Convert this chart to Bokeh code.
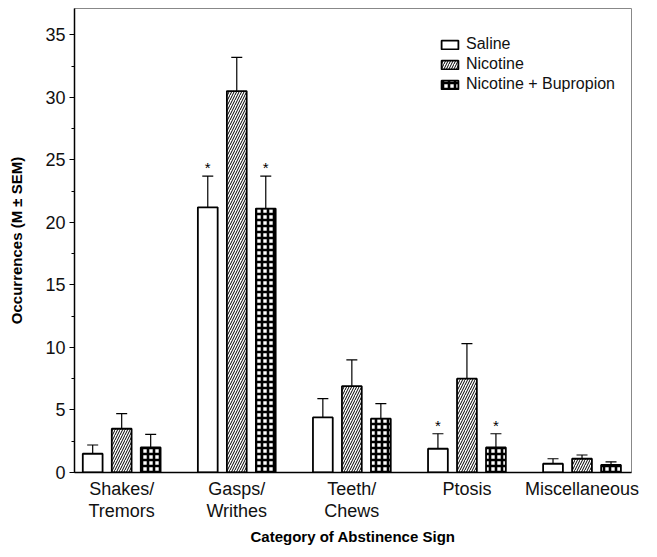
from bokeh.plotting import figure
from bokeh.models import (ColumnDataSource, Whisker, TeeHead, FixedTicker, Range1d,
                          SingleIntervalTicker)
from bokeh.transform import dodge
from bokeh.core.properties import value
from bokeh.embed import file_html
from bokeh.resources import INLINE

categories = ["Shakes/\nTremors", "Gasps/\nWrithes", "Teeth/\nChews", "Ptosis", "Miscellaneous"]
series = ["Saline", "Nicotine", "Nicotine + Bupropion"]
saline = [1.5, 21.2, 4.4, 1.9, 0.7]
saline_err = [0.7, 2.5, 1.5, 1.2, 0.4]
nicotine = [3.5, 30.5, 6.9, 7.5, 1.1]
nicotine_err = [1.2, 2.7, 2.1, 2.8, 0.3]
bupropion = [2.0, 21.1, 4.3, 2.0, 0.6]
bupropion_err = [1.05, 2.6, 1.2, 1.1, 0.25]
stars_saline = [False, True, False, True, False]
stars_nicotine = [False, False, False, False, False]
stars_bupropion = [False, True, False, True, False]
x_title = "Category of Abstinence Sign"
y_title = "Occurrences (M \u00b1 SEM)"

xs = list(range(1, len(categories) + 1))

p = figure(width=641, height=548, output_backend="svg", toolbar_location=None,
           x_range=Range1d(0.59, 5.43), y_range=Range1d(0, 37.1),
           min_border_left=74, min_border_right=10, min_border_top=8, min_border_bottom=76)
p.xgrid.visible = False
p.ygrid.visible = False
p.outline_line_color = "#888888"
p.outline_line_width = 1

styles = [
    dict(fill_color="white"),
    dict(fill_color="white", hatch_pattern="right_diagonal_line", hatch_scale=5, hatch_weight=1, hatch_color="black"),
    dict(fill_color="white", hatch_pattern="cross", hatch_scale=6, hatch_weight=2.6, hatch_color="black"),
]
offsets = [-0.252, 0.0, 0.252]
data = [(saline, saline_err, stars_saline), (nicotine, nicotine_err, stars_nicotine),
        (bupropion, bupropion_err, stars_bupropion)]

for (vals, errs, stars), name, st, off in zip(data, series, styles, offsets):
    src = ColumnDataSource(dict(
        x=xs, top=vals,
        upper=[v + e for v, e in zip(vals, errs)],
        lower=[v - e for v, e in zip(vals, errs)],
    ))
    p.vbar(x=dodge("x", off, range=p.x_range), top="top", width=0.172, source=src,
           line_color="black", line_width=1.8, legend_label=name, **st)
    w = Whisker(base=dodge("x", off, range=p.x_range), upper="upper", lower="lower", source=src,
                line_color="black", line_width=1.2,
                upper_head=TeeHead(size=11, line_color="black", line_width=1.2),
                lower_head=TeeHead(size=11, line_color="black", line_width=1.2))
    p.add_layout(w)
    sx = [x for x, s in zip(xs, stars) if s]
    sy = [v + e for v, e, s in zip(vals, errs, stars) if s]
    if sx:
        ssrc = ColumnDataSource(dict(x=sx, y=sy))
        p.text(x=dodge("x", off, range=p.x_range), y="y", text=value("*"), source=ssrc,
               text_align="center", text_baseline="bottom", y_offset=0,
               text_font=value("Liberation Sans"), text_font_size="15px", text_color="black")

# y axis
p.yaxis.ticker = SingleIntervalTicker(interval=5, num_minor_ticks=2)
p.yaxis.axis_label = y_title
p.yaxis.axis_label_text_font = "Liberation Sans"
p.yaxis.axis_label_text_font_style = "bold"
p.yaxis.axis_label_text_font_size = "15px"
p.yaxis.axis_label_text_color = "black"
p.yaxis.axis_label_standoff = 17
p.yaxis.major_label_text_font = "Liberation Sans"
p.yaxis.major_label_text_font_size = "18px"
p.yaxis.major_label_text_color = "#111111"
p.yaxis.major_label_standoff = 4
p.yaxis.major_tick_out = 5
p.yaxis.major_tick_in = 0
p.yaxis.minor_tick_out = 3
p.yaxis.minor_tick_in = 0
p.yaxis.axis_line_color = "black"
p.yaxis.axis_line_width = 1.5

# x axis
p.xaxis.ticker = FixedTicker(ticks=xs)
p.xaxis.major_label_overrides = {x: c for x, c in zip(xs, categories)}
p.xaxis.major_label_text_font = "Liberation Sans"
p.xaxis.major_label_text_font_size = "18px"
p.xaxis.major_label_text_line_height = 1.1
p.xaxis.major_label_text_color = "#111111"
p.xaxis.major_tick_line_color = None
p.xaxis.minor_tick_line_color = None
p.xaxis.major_label_standoff = 0
p.xaxis.axis_label = x_title
p.xaxis.axis_label_text_font = "Liberation Sans"
p.xaxis.axis_label_text_font_style = "bold"
p.xaxis.axis_label_text_font_size = "15px"
p.xaxis.axis_label_text_color = "black"
p.xaxis.axis_label_standoff = 4
p.xaxis.axis_line_color = "black"
p.xaxis.axis_line_width = 1.5

lg = p.legend[0]
lg.location = (365, 379)
lg.border_line_color = None
lg.background_fill_alpha = 0
lg.label_text_font = "Liberation Sans"
lg.label_text_font_size = "16px"
lg.label_text_color = "#111111"
lg.glyph_width = 21
lg.glyph_height = 11
lg.label_standoff = 6
lg.spacing = 2
lg.padding = 8

open("out.html", "w").write(file_html(p, INLINE))
